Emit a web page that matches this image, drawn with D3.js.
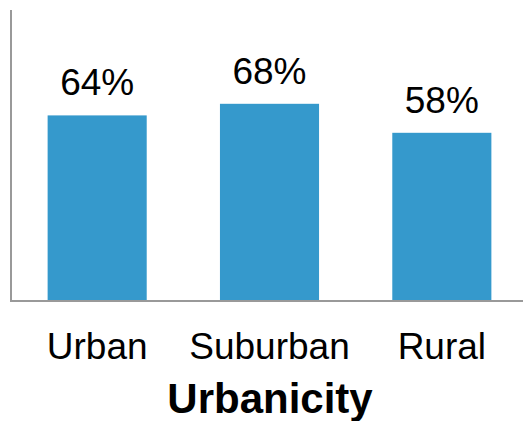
<!DOCTYPE html>
<html><head><meta charset="utf-8">
<script src="https://cdn.jsdelivr.net/npm/d3@7"></script>
<style>body{margin:0;background:#fff}svg{display:block}</style>
</head><body>
<script>
const categories = ["Urban", "Suburban", "Rural"];
const values = [64, 68, 58];
const valueLabels = ["64%", "68%", "58%"];
const axisTitle = "Urbanicity";

const W = 523, H = 421;
const svg = d3.select("body").append("svg").attr("width", W).attr("height", H);

const x = d3.scaleBand().domain(categories).range([11, 528]).paddingInner(0.425).paddingOuter(0.2125);
const y = d3.scaleLinear().domain([0, 100]).range([301, 11]);

svg.selectAll("rect.bar").data(values).enter().append("rect")
  .attr("class", "bar")
  .attr("x", (d, i) => x(categories[i]))
  .attr("y", d => y(d))
  .attr("width", x.bandwidth())
  .attr("height", d => y(0) - y(d))
  .attr("fill", "#3599cc");

svg.selectAll("text.val").data(values).enter().append("text")
  .attr("class", "val")
  .attr("x", (d, i) => x(categories[i]) + x.bandwidth() / 2)
  .attr("y", d => y(d) - 20)
  .attr("text-anchor", "middle")
  .attr("font-family", "Liberation Sans, Arial, sans-serif")
  .attr("font-size", 37)
  .attr("fill", "#000")
  .text((d, i) => valueLabels[i]);

// axes
const xAxis = svg.append("g").attr("transform", `translate(0,${y(0)})`)
  .call(d3.axisBottom(x).tickSize(0).tickPadding(32));
xAxis.select(".domain").attr("d", `M11,0H${W}`).attr("stroke", "#999").attr("stroke-width", 2);
xAxis.selectAll("text").attr("font-family", "Liberation Sans, Arial, sans-serif")
  .attr("font-size", 37).attr("fill", "#000").attr("dy", "0.71em");

svg.append("line").attr("x1", 11).attr("x2", 11).attr("y1", 10).attr("y2", y(0) + 1)
  .attr("stroke", "#999").attr("stroke-width", 2);

svg.append("text").attr("x", 270).attr("y", 413)
  .attr("text-anchor", "middle")
  .attr("font-family", "Liberation Sans, Arial, sans-serif")
  .attr("font-size", 42).attr("font-weight", "bold").attr("fill", "#000")
  .text(axisTitle);
</script>
</body></html>
